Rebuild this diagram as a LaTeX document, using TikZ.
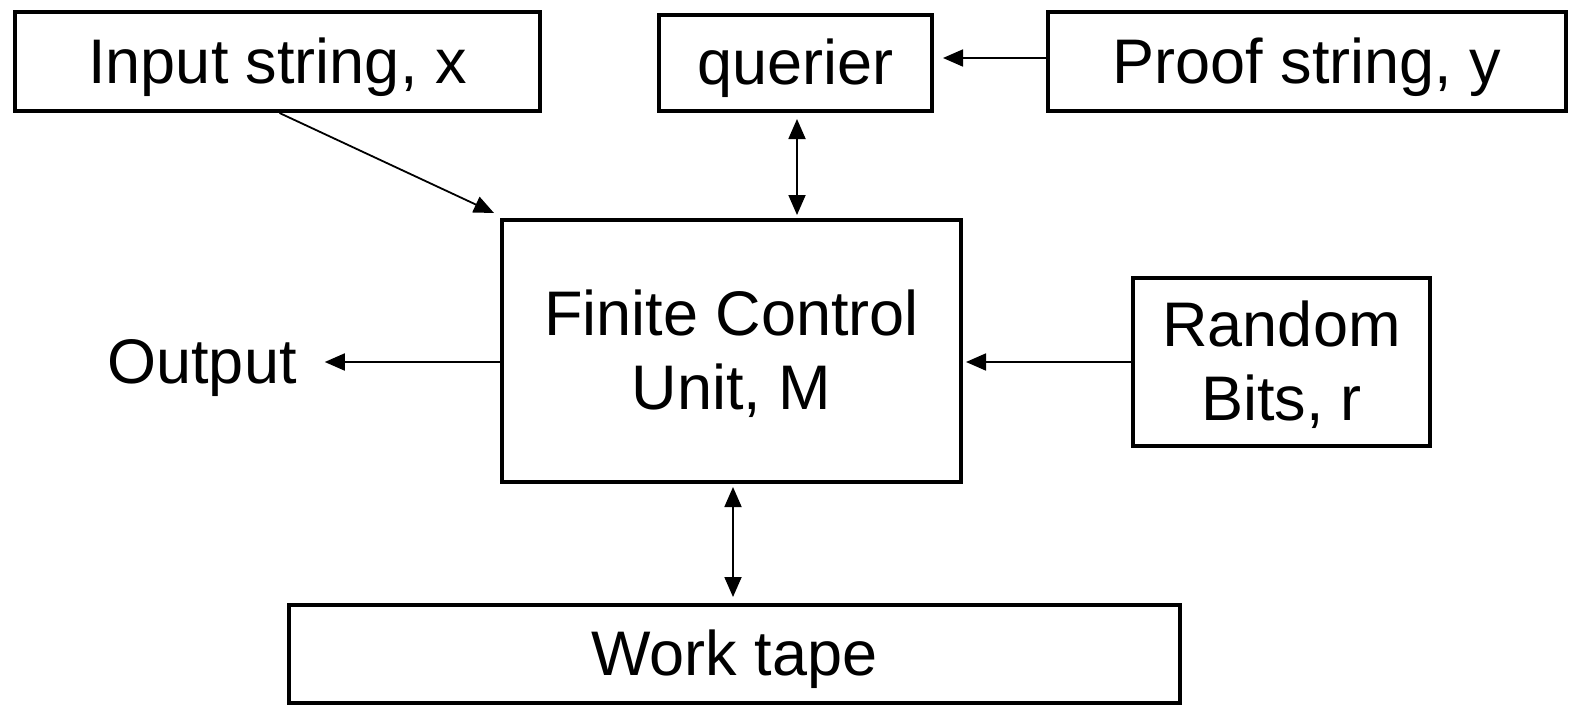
\documentclass[tikz,border=0pt]{standalone}
\usepackage{fontspec}
\setmainfont{Liberation Sans}
\usetikzlibrary{arrows.meta}
\newcommand{\lowtxt}[1]{\raisebox{-7pt}[\height][\depth]{\begin{tabular}{@{}c@{}}#1\end{tabular}}}
\begin{document}
\begin{tikzpicture}[x=1pt,y=-1pt,
  box/.style={draw=black,line width=4pt,rectangle,inner sep=0pt,align=center,
    font=\fontsize{63}{74}\selectfont},
  lbl/.style={inner sep=0pt,font=\fontsize{63}{74}\selectfont},
  arr/.style={line width=1.8pt,-{Triangle[length=20pt,width=17pt]}},
  dbl/.style={line width=1.8pt,{Triangle[length=20pt,width=17pt]}-{Triangle[length=20pt,width=17pt]}}]
\useasboundingbox (0,0) rectangle (1572,707);
\node[box,minimum width=525pt,minimum height=99pt] (in) at (277.5,61.5) {\lowtxt{Input string, x}};
\node[box,minimum width=273pt,minimum height=96pt] (qu) at (795.5,63) {\lowtxt{querier}};
\node[box,minimum width=518pt,minimum height=99pt] (pr) at (1307,61.5) {\lowtxt{Proof string, y}};
\node[box,minimum width=459pt,minimum height=262pt] (fc) at (731.5,351) {\lowtxt{Finite Control\\Unit, M}};
\node[box,minimum width=297pt,minimum height=168pt] (rb) at (1281.5,362) {\lowtxt{Random\\Bits, r}};
\node[box,minimum width=891pt,minimum height=98pt] (wt) at (734.5,654) {\lowtxt{Work tape}};
\node[lbl] (out) at (202,362) {\lowtxt{Output}};
\draw[arr] ([xshift=2pt]in.south) -- ([shift={(-6pt,5pt)}]fc.north west);
\draw[arr,shorten >=9pt] (pr.west |- 0,58) -- (qu.east |- 0,58);
\draw[dbl,shorten <=6pt,shorten >=3pt] ([xshift=1.5pt]qu.south) -- ([xshift=1.5pt]qu.south |- fc.north);
\draw[arr,shorten >=28pt] (fc.west |- 0,362) -- (out.east |- 0,362);
\draw[arr,shorten >=3pt] (rb.west) -- (rb.west -| fc.east);
\draw[dbl,shorten <=3pt,shorten >=6pt] ([xshift=1.5pt]fc.south) -- ([xshift=1.5pt]fc.south |- wt.north);
\end{tikzpicture}
\end{document}
